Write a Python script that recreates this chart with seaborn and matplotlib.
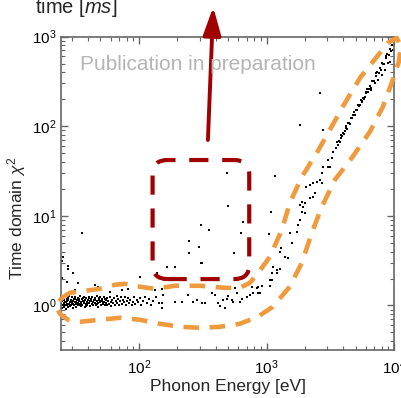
import numpy as np
import pandas as pd
import matplotlib
matplotlib.use("Agg")
import matplotlib.pyplot as plt
import seaborn as sns
from matplotlib.patches import FancyBboxPatch

# ---------------- data (log10 values) ----------------
# dense low band
band_logE = [1.392,1.395,1.398,1.401,1.404,1.407,1.410,1.413,1.416,1.419,1.423,1.426,1.430,1.433,1.437,1.440,
             1.444,1.448,1.451,1.455,1.459,1.462,1.466,1.470,1.474,1.478,1.482,1.486,1.490,1.494,1.498,1.502,
             1.506,1.510,1.515,1.519,1.523,1.527,1.531,1.536,1.540,1.544,1.548,1.553,1.557,1.561,1.566,1.570,
             1.574,1.579,1.583,1.588,1.592,1.597,1.601,1.606,1.610,1.615,1.620,1.624,1.629,1.634,1.638,1.643,
             1.648,1.653,1.658,1.663,1.668,1.673,1.678,1.683,1.688,1.693,1.698,1.703,1.708,1.714,1.719,1.724,
             1.730,1.735,1.741,1.746,1.752,
             1.396,1.409,1.421,1.435,1.446,1.458,1.472,1.484,1.496,1.508,1.521,1.534,1.546,1.559,1.572,1.585,
             1.599,1.612,1.626,1.640,1.655,1.670,1.685,1.700,1.716,1.732,1.748,
             1.758,1.765,1.771,1.778,1.784,1.791,1.797,1.804,1.811,1.818,1.825,1.832,1.839,1.846,1.853,1.861,
             1.868,1.876,1.884,1.892,1.900,1.908,1.916,1.925,1.934,1.943,1.952,1.962,1.972,1.983,1.994,2.006,
             2.018,2.031,2.045,2.060,2.076,2.093,2.112,2.133,2.156,2.180]
band_logchi = [0.02,0.08,-0.03,0.05,0.00,0.10,0.03,-0.02,0.06,0.01,0.09,-0.04,0.04,0.07,0.00,0.05,
               -0.02,0.08,0.02,0.11,0.04,-0.01,0.06,0.01,0.09,0.03,-0.03,0.05,0.07,0.00,0.04,0.10,
               0.02,-0.02,0.06,0.03,0.08,0.00,0.05,0.02,0.11,-0.01,0.04,0.07,0.01,0.05,0.09,0.03,
               -0.02,0.06,0.02,0.08,0.04,0.00,0.06,0.10,0.03,0.05,-0.01,0.07,0.02,0.09,0.04,0.00,
               0.06,0.03,0.08,0.01,0.05,0.11,0.03,-0.02,0.06,0.04,0.09,0.01,0.05,0.07,0.02,0.10,
               0.04,0.00,0.06,0.03,0.08,
               0.06,0.00,0.04,0.02,0.06,0.01,0.05,0.02,0.07,0.04,0.01,0.07,0.02,0.08,0.05,-0.01,
               0.03,0.08,0.05,0.01,0.06,0.02,0.08,0.05,0.03,0.07,0.01,
               0.05,0.02,0.09,0.04,-0.01,0.06,0.03,0.08,0.01,0.05,0.11,0.03,0.07,0.00,0.05,0.09,
               0.02,0.06,0.04,0.10,0.01,0.05,0.08,0.03,0.06,0.00,0.04,0.09,0.02,0.06,0.04,0.08,
               0.01,0.05,0.10,0.03,0.07,0.00,0.05,0.09,0.03,-0.03]

# scattered points (left outliers, middle region, inside box)
sparse_logE = [1.397,1.444,1.483,1.397,1.436,1.522,1.499,1.655,1.679,1.773,1.867,1.914,2.008,2.125,2.180,2.180,
               1.554,1.405,1.444,
               2.219,2.282,2.493,2.188,2.282,2.337,2.423,2.454,2.493,2.517,2.572,2.595,2.619,2.634,2.658,2.689,
               2.728,2.736,2.767,2.791,2.807,2.846,2.869,2.893,2.924,2.932,2.948,2.885,3.026,2.752,2.673,2.384,2.697,
               2.689,2.697,2.486,2.548,2.814,2.799,2.392,2.470,2.392,2.744,2.486,2.141]
sparse_logchi = [0.498,0.443,0.365,0.309,0.264,0.253,0.175,0.231,0.209,0.153,0.175,0.186,0.320,0.175,0.186,0.030,
                 0.811,0.543,0.409,
                 0.432,0.432,0.476,0.119,0.041,0.041,0.041,0.064,0.030,0.030,0.142,0.119,0.030,-0.003,0.064,0.075,
                 0.064,0.041,0.142,0.041,0.075,0.097,0.119,0.142,0.197,0.209,0.142,0.209,0.287,0.197,-0.026,0.119,0.108,
                 1.480,1.112,0.900,0.844,0.933,0.811,0.721,0.655,0.588,0.588,0.476,0.365]

# rising branch
rise_logE = [3.991,3.966,3.952,3.926,3.901,3.874,3.848,3.822,3.796,3.770,3.744,3.731,3.705,3.678,3.666,3.639,
             3.626,3.600,3.587,3.561,3.548,3.522,3.509,3.482,3.478,3.443,3.496,3.431,3.417,3.431,3.392,3.365,
             3.339,3.313,3.378,3.365,3.339,3.300,3.274,3.261,3.287,3.274,3.300,3.261,3.248,3.235,3.182,3.196,
             3.091,3.117,3.143,3.169,3.104,3.052,3.078,3.104,3.039,3.078,3.039,3.026,2.961,2.922,2.934,
             3.417,3.261,3.443,3.065,3.034,3.018,
             3.552,3.558,3.566,3.573,3.580,3.591,3.597,3.606,3.612,3.619,3.632,3.645,3.652,3.659,3.672,3.685,
             3.692,3.698,3.711,3.718,3.724,3.737,3.750,3.757,3.763,3.776,3.783,3.789,3.802,3.809,3.815,3.828,
             3.835,3.841,3.854,3.861,3.867,3.880,3.887,3.893,3.906,3.913,3.919,3.932,3.939,3.945,3.958,3.971,
             3.978,3.985]
rise_logchi = [2.852,2.721,2.703,2.629,2.573,2.517,2.480,2.405,2.387,2.331,2.275,2.238,2.182,2.126,2.090,2.034,
               1.978,1.923,1.867,1.792,1.755,1.717,1.644,1.625,1.550,1.550,1.550,1.477,1.402,1.365,1.383,1.365,
               1.346,1.327,1.253,1.216,1.198,1.142,1.160,1.123,1.104,1.048,1.030,0.956,0.900,0.825,0.807,0.696,
               0.714,0.640,0.546,0.529,0.602,0.435,0.398,0.406,0.361,0.361,0.287,0.212,0.212,0.194,0.138,
               2.369,2.015,1.960,1.450,1.042,0.800,
               1.82,1.79,1.84,1.82,1.90,1.89,1.93,1.91,1.95,2.00,1.97,2.04,2.03,2.09,2.09,2.16,
               2.12,2.18,2.18,2.24,2.23,2.29,2.28,2.32,2.30,2.38,2.37,2.42,2.41,2.45,2.43,2.51,
               2.51,2.50,2.59,2.56,2.61,2.59,2.65,2.63,2.71,2.70,2.69,2.78,2.76,2.81,2.80,2.86,
               2.84,2.91]

# orange envelope (closed guide curve)
env_logE = [1.397,1.460,1.577,1.695,1.812,1.890,2.008,2.125,2.282,2.478,2.673,2.791,2.869,2.924,3.026,3.120,
            3.182,3.276,3.394,3.496,3.605,3.738,3.864,3.950,4.020,4.052,4.036,
            3.989,3.911,3.809,3.668,3.535,3.433,3.355,3.276,3.182,3.049,2.932,2.791,2.634,2.478,2.321,2.164,
            2.008,1.851,1.695,1.538,1.444,1.381,1.350,1.397]
env_logchi = [0.086,0.142,0.164,0.186,0.231,0.242,0.209,0.186,0.220,0.220,0.197,0.197,0.253,0.343,0.543,0.844,
              1.145,1.435,1.703,1.960,2.238,2.551,2.774,2.930,2.985,2.896,2.718,
              2.517,2.216,1.937,1.647,1.402,1.101,0.811,0.476,0.209,-0.014,-0.126,-0.204,-0.238,-0.249,-0.238,-0.204,
              -0.159,-0.137,-0.159,-0.182,-0.159,-0.093,-0.003,0.086]

x_limits = (24.5, 1e4)
y_limits = (0.32, 1e3)

# ---------------- build frame ----------------
pts = pd.DataFrame({
    "energy": 10 ** np.array(band_logE + sparse_logE + rise_logE),
    "chi2": 10 ** np.array(band_logchi + sparse_logchi + rise_logchi),
})

sns.set_theme(style="ticks")
plt.rcParams["font.family"] = ["Liberation Sans", "DejaVu Sans"]
plt.rcParams["mathtext.fontset"] = "custom"
plt.rcParams["mathtext.rm"] = "Liberation Sans"
plt.rcParams["mathtext.it"] = "Liberation Sans:italic"
plt.rcParams["mathtext.bf"] = "Liberation Sans:bold"

fig = plt.figure(figsize=(4.01, 3.98), dpi=100)
ax = fig.add_axes([0.152, 0.121, 0.831, 0.787])

sns.scatterplot(data=pts, x="energy", y="chi2", ax=ax, color="black", marker="s",
                s=3.5, linewidth=0, zorder=2, legend=False)

ax.set_xscale("log")
ax.set_yscale("log")
ax.set_xlim(*x_limits)
ax.set_ylim(*y_limits)

# orange envelope
ax.plot(10 ** np.array(env_logE), 10 ** np.array(env_logchi), color="#F09A3E", lw=3.3,
        linestyle=(0, (3.4, 2.3)), clip_on=False, zorder=3, solid_capstyle="butt",
        dash_capstyle="butt")

# dark red rounded box
box = FancyBboxPatch((0.275, 0.226), 0.290, 0.380, boxstyle="round,pad=0,rounding_size=0.045",
                     transform=ax.transAxes, fill=False, edgecolor="#A00000", lw=3.0,
                     linestyle=(0, (4.6, 3.3)), zorder=4)
ax.add_patch(box)

# arrow
ax.annotate("", xy=(0.457, 1.095), xytext=(0.441, 0.670), xycoords="axes fraction",
            textcoords="axes fraction", annotation_clip=False,
            arrowprops=dict(arrowstyle="-|>,head_length=0.85,head_width=0.27", mutation_scale=20,
                            color="#A00000", lw=2.8, shrinkA=0, shrinkB=0), zorder=5)

ax.text(0.057, 0.91, "Publication in preparation", transform=ax.transAxes, color="#B5B5B5",
        fontsize=15, va="center", ha="left", zorder=6)

ax.set_xlabel("Phonon Energy [eV]", fontsize=12.5, labelpad=1.5)
ax.set_ylabel(r"Time domain $\chi^2$", fontsize=12.5)
ax.yaxis.set_label_coords(-0.098, 0.42)

for sp in ax.spines.values():
    sp.set_color("#666666")
    sp.set_linewidth(1.2)
    sp.set_visible(True)
ax.tick_params(which="both", direction="in", top=True, right=True, color="#666666",
               labelsize=11, labelcolor="black")
ax.tick_params(which="major", length=5, width=1.0)
ax.tick_params(which="minor", length=3, width=0.8)
ax.tick_params(axis="x", which="major", pad=6)
ax.grid(False)

fig.text(0.087, 0.968, r"time [$\mathit{ms}$]", fontsize=14.5, va="baseline", ha="left")

fig.savefig("out.png", dpi=100)
